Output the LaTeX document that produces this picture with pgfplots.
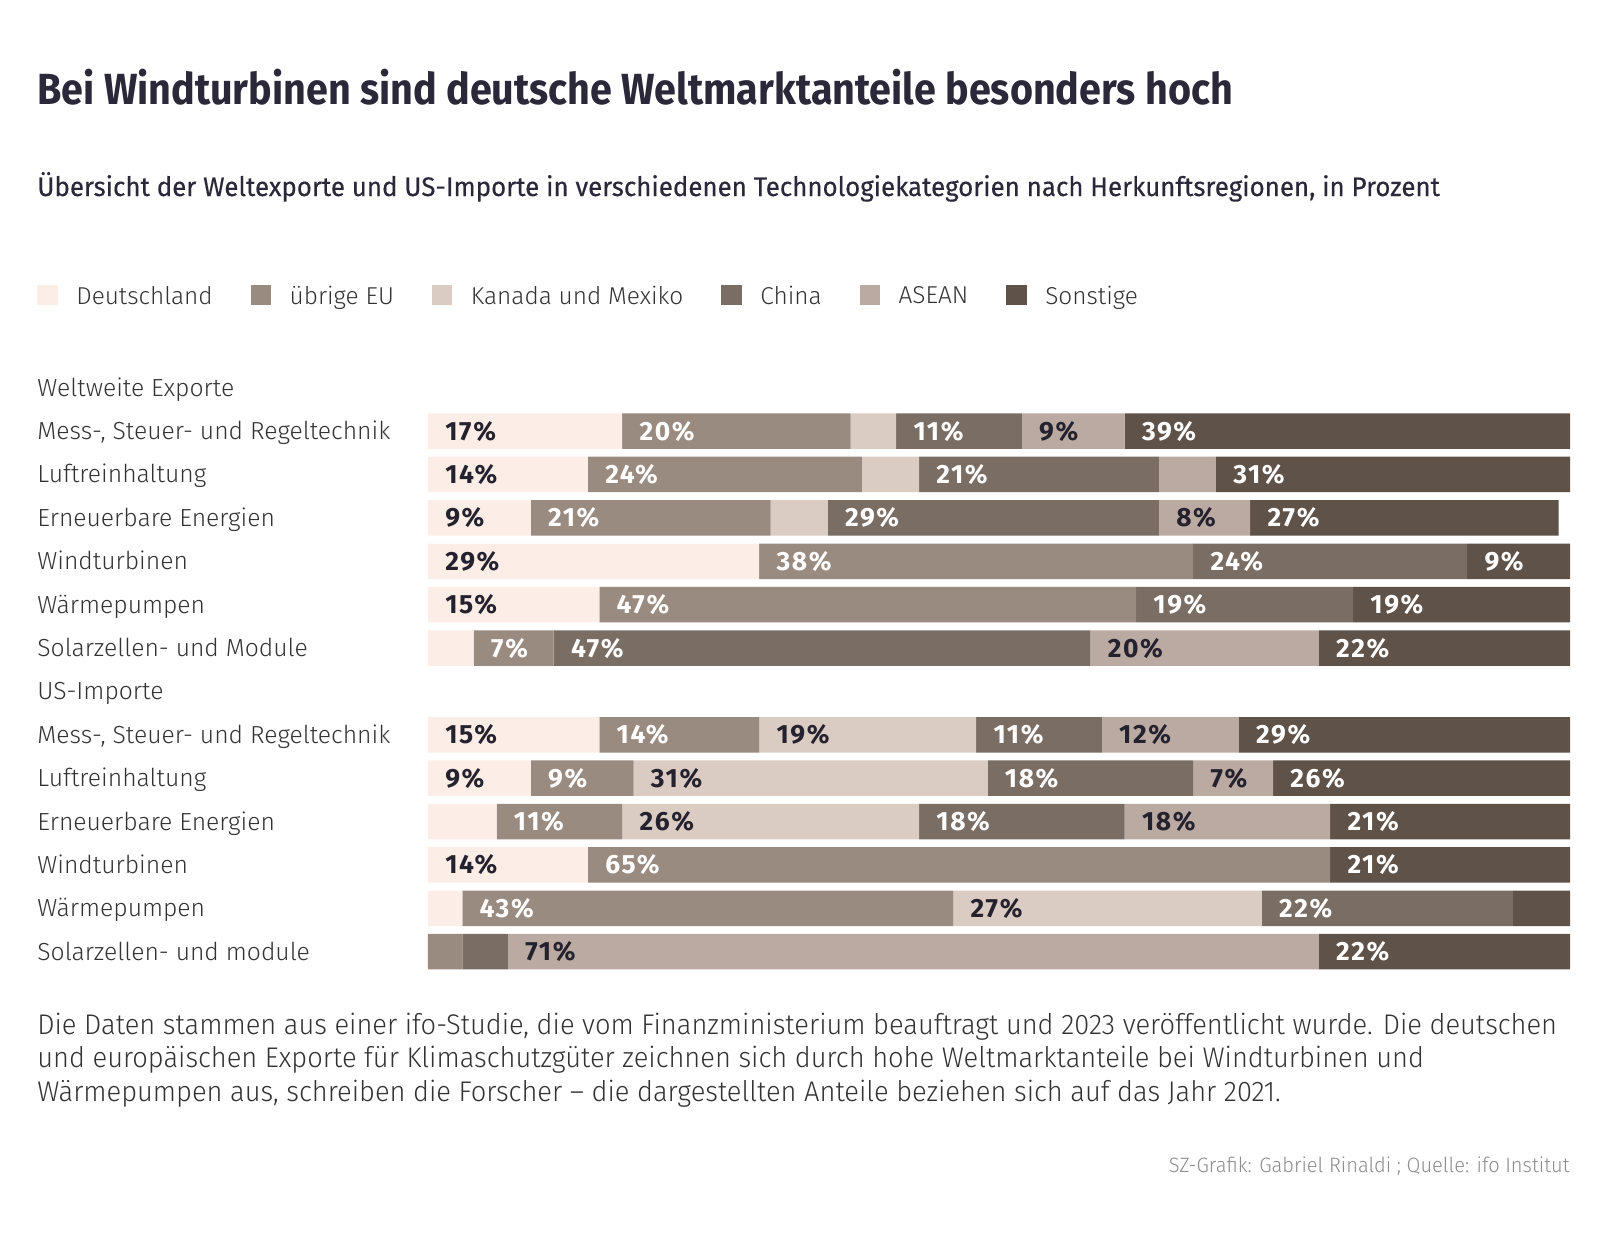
\documentclass[border=0pt]{standalone}
\usepackage{pgfplots}
\pgfplotsset{compat=1.18}
\usepackage{pgfplotstable}
\usepackage{fontspec}
\setmainfont{Fira Sans}
\newfontfamily\lightfont{Fira Sans Light}
\newfontfamily\titlefont[FakeStretch=0.906]{Fira Sans}
\newfontfamily\subfont[FakeStretch=0.966, FakeBold=0.3]{Fira Sans}
\newfontfamily\notefont[FakeStretch=0.96]{Fira Sans Light}
\newfontfamily\srcfont[FakeStretch=0.965]{Fira Sans Light}
\newfontfamily\pctfont[LetterSpace=6]{Fira Sans}
\definecolor{cDE}{HTML}{FCEEE6}
\definecolor{cEU}{HTML}{9A8B81}
\definecolor{cKM}{HTML}{DBCCC3}
\definecolor{cCN}{HTML}{7A6D64}
\definecolor{cAS}{HTML}{BBAAA1}
\definecolor{cSO}{HTML}{5E5249}
\definecolor{titlec}{HTML}{2A2839}
\definecolor{textc}{HTML}{333333}
\definecolor{labdark}{HTML}{25222F}
\definecolor{srcc}{HTML}{8C8C8C}

\pgfplotstableread{
y DE EU KM CN AS SO
1 17 20 4 11 9 39
2 14 24 5 21 5 31
3 9 21 5 29 8 27
4 29 38 0 24 0 9
5 15 47 0 19 0 19
6 4 7 0 47 20 22
8 15 14 19 11 12 29
9 9 9 31 18 7 26
10 6 11 26 18 18 21
11 14 65 0 0 0 21
12 3 43 27 22 0 5
13 0 3 0 4 71 22
}\shares

\pgfplotstableread{
x y v
0 1 17
52 1 9
0 2 14
0 3 9
64 3 8
0 4 29
0 5 15
58 6 20
0 8 15
29 8 19
59 8 12
0 9 9
18 9 31
67 9 7
17 10 26
61 10 18
0 11 14
46 12 27
7 13 71
}\darklabels

\pgfplotstableread{
x y v
17 1 20
41 1 11
61 1 39
14 2 24
43 2 21
69 2 31
9 3 21
35 3 29
72 3 27
29 4 38
67 4 24
91 4 9
15 5 47
62 5 19
81 5 19
4 6 7
11 6 47
78 6 22
15 8 14
48 8 11
71 8 29
9 9 9
49 9 18
74 9 26
6 10 11
43 10 18
79 10 21
14 11 65
79 11 21
3 12 43
73 12 22
78 13 22
}\whitelabels

\pgfplotsset{
  sq/.style={legend image code/.code={\fill[##1] (0pt,-5.1pt) rectangle (10.25pt,5.15pt);}},
  baseax/.style={
    at={(214pt,-183pt)}, anchor=north west,
    scale only axis, width=571pt, height=303.7pt,
    xmin=0, xmax=100, ymin=-0.5, ymax=13.5, y dir=reverse,
    clip=false,
  },
}

\begin{document}
\begin{tikzpicture}
\useasboundingbox (0,0) rectangle (804pt,-627pt);
\node[anchor=base west, inner sep=0pt, text=titlec, font=\titlefont\fontsize{21.8}{26}\selectfont\bfseries] at (18.5pt,-52pt) {Bei Windturbinen sind deutsche Weltmarktanteile besonders hoch};
\node[anchor=base west, inner sep=0pt, text=titlec, font=\subfont\fontsize{13.4}{16}\selectfont] at (18.5pt,-98pt) {Übersicht der Weltexporte und US-Importe in verschiedenen Technologiekategorien nach Herkunftsregionen, in Prozent};

\begin{axis}[baseax,
  xbar stacked, bar width=17.75pt,
  axis line style={draw=none}, tick style={draw=none},
  xtick=\empty, ytick={0,...,13}, major tick length=0pt,
  yticklabels={{Weltweite Exporte},{Mess-, Steuer- und Regeltechnik},{Luftreinhaltung},{Erneuerbare Energien},{Windturbinen},{Wärmepumpen},{Solarzellen- und Module},{US-Importe},{Mess-, Steuer- und Regeltechnik},{Luftreinhaltung},{Erneuerbare Energien},{Windturbinen},{Wärmepumpen},{Solarzellen- und module}},
  yticklabel style={anchor=base west, inner sep=0pt, xshift=-195.5pt, yshift=-4.25pt, font=\lightfont\fontsize{12.35}{14}\selectfont, text=textc},
  legend style={at={(-0.3424,1.1169)}, anchor=west, draw=none, fill=none, inner sep=0pt,
    legend columns=-1,
    nodes={inner sep=0pt, text depth=0pt, font=\lightfont\fontsize{12.2}{14}\selectfont, text=textc},
    /tikz/every odd column/.append style={column sep=9.25pt},
    /tikz/every even column/.append style={column sep=19pt}},
]
\addplot[fill=cDE, draw=none, sq] table[x=DE, y=y] {\shares};
\addlegendentry{Deutschland}
\addplot[fill=cEU, draw=none, sq] table[x=EU, y=y] {\shares};
\addlegendentry{übrige EU}
\addplot[fill=cKM, draw=none, sq] table[x=KM, y=y] {\shares};
\addlegendentry{Kanada und Mexiko}
\addplot[fill=cCN, draw=none, sq] table[x=CN, y=y] {\shares};
\addlegendentry{China}
\addplot[fill=cAS, draw=none, sq] table[x=AS, y=y] {\shares};
\addlegendentry{ASEAN}
\addplot[fill=cSO, draw=none, sq] table[x=SO, y=y] {\shares};
\addlegendentry{Sonstige}
\end{axis}

\begin{axis}[baseax, hide axis,
  nodes near coords={\pgfplotspointmeta\%},
  point meta=explicit symbolic,
  nodes near coords style={anchor=base west, inner sep=0pt, xshift=8.5pt, yshift=-4.5pt, font=\pctfont\fontsize{13.2}{15}\selectfont\bfseries},
]
\addplot[draw=none, mark=none, nodes near coords style={text=labdark}] table[x=x, y=y, meta=v] {\darklabels};
\addplot[draw=none, mark=none, nodes near coords style={text=white}] table[x=x, y=y, meta=v] {\whitelabels};
\end{axis}

\node[anchor=base west, inner sep=0pt, text=textc, font=\notefont\fontsize{14.2}{17}\selectfont] at (18.5pt,-517pt) {Die Daten stammen aus einer ifo-Studie, die vom Finanzministerium beauftragt und 2023 veröffentlicht wurde. Die deutschen};
\node[anchor=base west, inner sep=0pt, text=textc, font=\notefont\fontsize{14.2}{17}\selectfont] at (18.5pt,-533.9pt) {und europäischen Exporte für Klimaschutzgüter zeichnen sich durch hohe Weltmarktanteile bei Windturbinen und};
\node[anchor=base west, inner sep=0pt, text=textc, font=\notefont\fontsize{14.2}{17}\selectfont] at (18.5pt,-550.8pt) {Wärmepumpen aus, schreiben die Forscher – die dargestellten Anteile beziehen sich auf das Jahr 2021.};
\node[anchor=base east, inner sep=0pt, text=srcc, font=\srcfont\fontsize{10.4}{13}\selectfont] at (785pt,-586pt) {SZ-Grafik: Gabriel Rinaldi ; Quelle: ifo Institut};
\end{tikzpicture}
\end{document}
